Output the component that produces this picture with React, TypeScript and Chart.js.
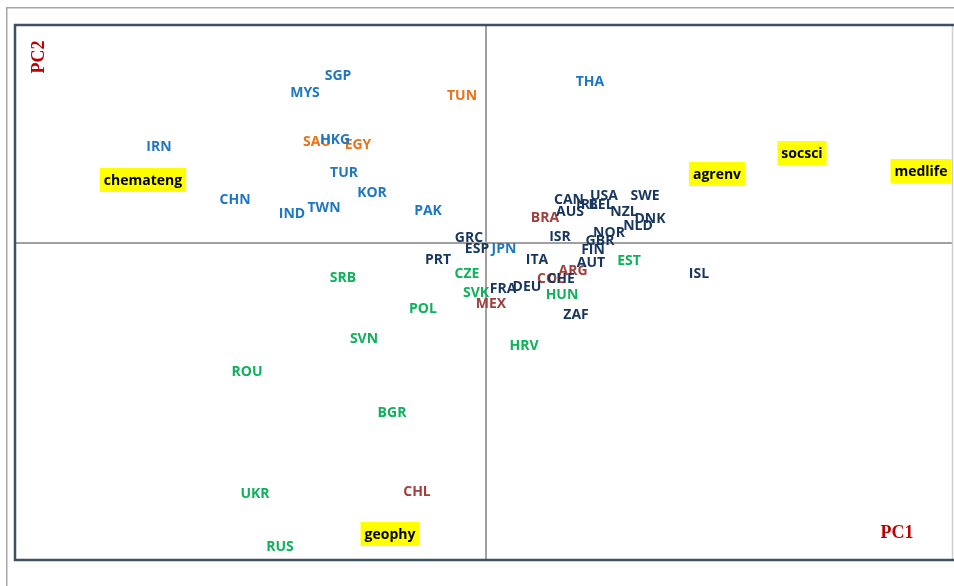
import React, { useEffect, useRef } from "react";
import { Chart, registerables } from "chart.js";

Chart.register(...registerables);

// PCA scores (PC1, PC2)
const orangeLabels = ["TUN", "SAU", "EGY"];
const orangePC1 = [-0.24, -1.69, -1.28];
const orangePC2 = [1.48, 1.02, 0.99];

const brownLabels = ["BRA", "COL", "ARG", "MEX", "CHL"];
const brownPC1 = [0.59, 0.65, 0.87, 0.05, -0.69];
const brownPC2 = [0.26, -0.35, -0.27, -0.6, -2.48];

const greenLabels = ["CZE", "SVK", "HUN", "HRV", "POL", "EST", "SRB", "SVN", "ROU", "BGR", "UKR", "RUS"];
const greenPC1 = [-0.19, -0.1, 0.76, 0.38, -0.63, 1.43, -1.43, -1.22, -2.39, -0.94, -2.31, -2.06];
const greenPC2 = [-0.3, -0.49, -0.51, -1.02, -0.65, -0.17, -0.34, -0.95, -1.28, -1.69, -2.5, -3.03];

const blueLabels = ["SGP", "MYS", "THA", "IRN", "HKG", "TUR", "KOR", "CHN", "IND", "TWN", "PAK", "JPN"];
const bluePC1 = [-1.48, -1.81, 1.04, -3.27, -1.51, -1.42, -1.14, -2.51, -1.94, -1.62, -0.58, 0.18];
const bluePC2 = [1.68, 1.51, 1.62, 0.97, 1.04, 0.71, 0.51, 0.44, 0.3, 0.36, 0.33, -0.05];

const navyLabels = ["GRC", "ESP", "PRT", "FRA", "DEU", "ITA", "CHE", "ZAF", "AUT", "FIN", "GBR", "NOR", "ISR", "AUS", "CAN", "IRL", "USA", "BEL", "SWE", "NZL", "DNK", "NLD", "ISL"];
const navyPC1 = [-0.17, -0.09, -0.48, 0.17, 0.41, 0.51, 0.75, 0.9, 1.05, 1.07, 1.14, 1.23, 0.74, 0.84, 0.83, 1.01, 1.18, 1.15, 1.59, 1.38, 1.64, 1.52, 2.13];
const navyPC2 = [0.06, -0.05, -0.16, -0.45, -0.43, -0.16, -0.35, -0.71, -0.19, -0.06, 0.03, 0.11, 0.07, 0.32, 0.44, 0.39, 0.48, 0.39, 0.48, 0.32, 0.25, 0.18, -0.3];

const fieldLabels = ["chemateng", "agrenv", "socsci", "medlife", "geophy"];
const fieldPC1 = [-3.43, 2.31, 3.16, 4.35, -0.96];
const fieldPC2 = [0.63, 0.69, 0.9, 0.72, -2.91];

const xMin = -4.71;
const xMax = 4.67;
const yMin = -3.17;
const yMax = 2.18;

const groups = [
  { labels: orangeLabels, x: orangePC1, y: orangePC2, color: "#E8731A", box: false },
  { labels: brownLabels, x: brownPC1, y: brownPC2, color: "#A0403E", box: false },
  { labels: greenLabels, x: greenPC1, y: greenPC2, color: "#0DB25A", box: false },
  { labels: blueLabels, x: bluePC1, y: bluePC2, color: "#1F77C2", box: false },
  { labels: navyLabels, x: navyPC1, y: navyPC2, color: "#17365D", box: false },
  { labels: fieldLabels, x: fieldPC1, y: fieldPC2, color: "#000000", box: true },
];

const LABEL_FONT = "bold 14px 'Open Sans', sans-serif";

const framePlugin = {
  id: "frame",
  beforeDatasetsDraw(chart: any) {
    const { ctx, chartArea, scales } = chart;
    const { left, right, top, bottom } = chartArea;
    ctx.save();
    // outer light frame
    ctx.strokeStyle = "#a8a8a8";
    ctx.lineWidth = 1.5;
    ctx.beginPath();
    ctx.moveTo(6.75, chart.height + 2);
    ctx.lineTo(6.75, 7.75);
    ctx.lineTo(chart.width + 2, 7.75);
    ctx.stroke();
    // axis lines through zero
    const x0 = scales.x.getPixelForValue(0);
    const y0 = scales.y.getPixelForValue(0);
    ctx.strokeStyle = "#a0a0a0";
    ctx.lineWidth = 2;
    ctx.beginPath();
    ctx.moveTo(x0, top);
    ctx.lineTo(x0, bottom);
    ctx.moveTo(left, y0);
    ctx.lineTo(right, y0);
    ctx.stroke();
    // right edge light
    ctx.strokeStyle = "#cfcfcf";
    ctx.lineWidth = 1.5;
    ctx.beginPath();
    ctx.moveTo(right - 0.5, top);
    ctx.lineTo(right - 0.5, bottom);
    ctx.stroke();
    // inner dark frame (top, left, bottom)
    ctx.strokeStyle = "#3E4F67";
    ctx.lineWidth = 2.5;
    ctx.beginPath();
    ctx.moveTo(chart.width + 2, top);
    ctx.lineTo(left, top);
    ctx.lineTo(left, bottom);
    ctx.lineTo(chart.width + 2, bottom);
    ctx.stroke();
    // axis titles
    ctx.fillStyle = "#C00000";
    ctx.font = "bold 18px 'Liberation Serif', 'Times New Roman', serif";
    ctx.textAlign = "center";
    ctx.textBaseline = "middle";
    ctx.fillText("PC1", right - 56, bottom - 27);
    ctx.translate(left + 24, top + 32);
    ctx.rotate(-Math.PI / 2);
    ctx.fillText("PC2", 0, 0);
    ctx.restore();
  },
  afterDatasetsDraw(chart: any) {
    const { ctx } = chart;
    ctx.save();
    ctx.font = LABEL_FONT;
    ctx.textAlign = "center";
    ctx.textBaseline = "middle";
    chart.data.datasets.forEach((ds: any, i: number) => {
      const meta = chart.getDatasetMeta(i);
      meta.data.forEach((el: any, j: number) => {
        const text = ds.labelTexts[j];
        const px = el.x;
        const py = el.y;
        if (ds.box) {
          const w = ctx.measureText(text).width + 8;
          ctx.fillStyle = "#FFFF00";
          ctx.fillRect(px - w / 2, py - 12, w, 24);
        }
        ctx.fillStyle = ds.textColor;
        ctx.fillText(text, px, py + 1);
      });
    });
    ctx.restore();
  },
};

export default function App() {
  const canvasRef = useRef<HTMLCanvasElement>(null);

  useEffect(() => {
    if (!canvasRef.current) return;
    const chart = new Chart(canvasRef.current, {
      type: "scatter",
      data: {
        datasets: groups.map((g) => ({
          data: g.x.map((v, i) => ({ x: v, y: g.y[i] })),
          labelTexts: g.labels,
          textColor: g.color,
          box: g.box,
          pointRadius: 0,
          pointHoverRadius: 0,
          backgroundColor: g.color,
        })) as any,
      },
      options: {
        responsive: false,
        animation: false,
        events: [],
        layout: { padding: { left: 15, top: 25, right: 1, bottom: 26 } },
        plugins: { legend: { display: false }, tooltip: { enabled: false } },
        scales: {
          x: { type: "linear", min: xMin, max: xMax, display: false },
          y: { type: "linear", min: yMin, max: yMax, display: false },
        },
      },
      plugins: [framePlugin],
    });
    return () => chart.destroy();
  }, []);

  return (
    <div style={{ position: "absolute", left: 0, top: 0, width: 954, height: 586, background: "#fff" }}>
      <canvas ref={canvasRef} width={954} height={586} style={{ display: "block" }} />
    </div>
  );
}
